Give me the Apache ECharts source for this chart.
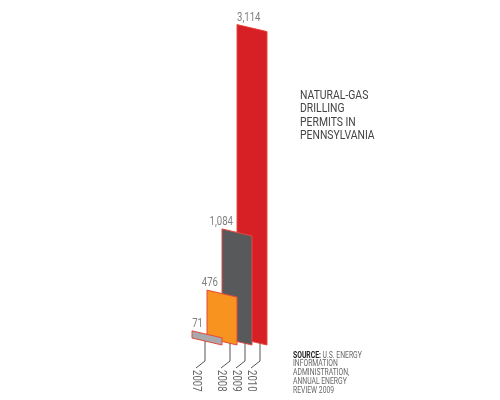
<!DOCTYPE html>
<html>
<head>
<meta charset="utf-8">
<script src="https://cdn.jsdelivr.net/npm/echarts@6/dist/echarts.min.js"></script>
<style>
  html, body { margin: 0; background: #fff; }
  #chart { width: 500px; height: 400px; }
</style>
</head>
<body>
<div id="chart"></div>
<script>
// data
const years = ["2007", "2008", "2009", "2010"];
const permits = [71, 476, 1084, 3114];
const barColors = ["#a7a9ac", "#f7931e", "#58595b", "#d71f26"];
const titleLines = ["NATURAL-GAS", "DRILLING", "PERMITS IN", "PENNSYLVANIA"];
const sourceLines = ["U.S. ENERGY", "INFORMATION", "ADMINISTRATION,", "ANNUAL ENERGY", "REVIEW 2009"];

const FONT = "Roboto, sans-serif";
const SKEW = 7; // slant of bar tops/bottoms
const NARROW = 0.8; // squeeze text to look condensed

var myChart = echarts.init(document.getElementById("chart"));

const renderBar = (params, api) => {
  const i = params.dataIndex;
  const band = api.size([1, 0])[0];
  const top = api.coord([i, api.value(1)]);
  const base = api.coord([i, 0]);
  const L = top[0] - band / 2;
  const W = band * 2;
  const R = L + W;
  const last = i === years.length - 1;
  // leader line position
  const vx = i === 0 ? L + 13 : R - 7;
  const vy = base[1] + SKEW * (vx - L) / W;
  return {
    type: "group",
    children: [
      {
        type: "polygon",
        z2: 10 - i,
        shape: {
          points: [[L, top[1]], [R, top[1] + SKEW], [R, base[1] + SKEW], [L, base[1]]]
        },
        style: { fill: barColors[i], stroke: "#e4483c", lineWidth: 1 }
      },
      {
        type: "text",
        z2: 20,
        x: last ? L : L + 11,
        y: top[1] - 7,
        scaleX: NARROW,
        style: {
          text: api.value(1).toLocaleString("en-US"),
          fill: "#808080",
          font: "12px " + FONT,
          align: last ? "left" : "right",
          verticalAlign: "middle"
        }
      },
      {
        type: "polyline",
        z2: 20,
        shape: { points: [[vx, vy], [vx, base[1] + 23], [vx - 9, base[1] + 30]] },
        style: { stroke: "#555", lineWidth: 1, fill: null }
      },
      {
        type: "text",
        z2: 20,
        x: vx - 9,
        y: base[1] + 32,
        rotation: -Math.PI / 2,
        scaleX: NARROW,
        style: {
          text: years[i],
          fill: "#666",
          font: "12px " + FONT,
          align: "left",
          verticalAlign: "middle"
        }
      }
    ]
  };
};

myChart.setOption({
  animation: false,
  graphic: [
    {
      type: "text",
      x: 300,
      y: 89,
      scaleX: NARROW,
      style: {
        text: titleLines.join("\n"),
        fill: "#444",
        font: "13px " + FONT,
        lineHeight: 13.4,
        align: "left",
        verticalAlign: "top"
      }
    },
    {
      type: "text",
      x: 293,
      y: 351,
      scaleX: NARROW,
      style: {
        text: "{b|SOURCE:} " + sourceLines.join("\n"),
        fill: "#666",
        font: "8.5px " + FONT,
        lineHeight: 8.8,
        align: "left",
        verticalAlign: "top",
        rich: {
          b: { fontSize: 8.5, fontWeight: "bold", fill: "#222", fontFamily: FONT }
        }
      }
    }
  ],
  grid: { left: 192, width: 60, top: 24, bottom: 62 },
  xAxis: { type: "category", data: years, show: false },
  yAxis: { type: "value", min: 0, max: 3120, show: false },
  series: [
    {
      type: "custom",
      renderItem: renderBar,
      data: permits.map((v, i) => [i, v])
    }
  ]
});
</script>
</body>
</html>
